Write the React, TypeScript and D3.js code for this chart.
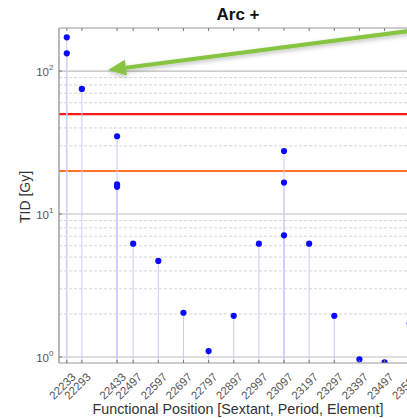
import React from "react";
import * as d3 from "d3";

const positions = [22233, 22233, 22293, 22433, 22433, 22433, 22497, 22597, 22697, 22797, 22897, 22997, 23097, 23097, 23097, 23197, 23297, 23397, 23497, 23597];
const values = [172, 133, 75, 35, 16.1, 15.5, 6.2, 4.7, 2.04, 1.1, 1.94, 6.2, 27.6, 16.6, 7.1, 6.2, 1.94, 0.963, 0.918, 1.72];
const tickLabels = ["22233", "22293", "22433", "22497", "22597", "22697", "22797", "22897", "22997", "23097", "23197", "23297", "23397", "23497", "23597"];
const limitValues = [50, 20];
const limitColors = ["#ff1a1a", "#ff7424"];
const majorTicks = [1, 10, 100];
const majorExps = ["0", "1", "2"];

const W = 407, H = 418;
const M = { left: 59, top: 28, right: 417, bottom: 363 };
const FONT = "'Liberation Sans', Arial, Helvetica, sans-serif";

export default function App() {
  const x = d3.scaleLinear().domain([22202, 23626]).range([M.left, M.right]);
  const y = d3.scaleLog().domain([0.908, 200]).range([M.bottom, M.top]);

  const minor: number[] = [];
  [1, 10, 100].forEach((d) => {
    for (let k = 2; k <= 9; k++) {
      const v = d * k;
      if (v < 200) minor.push(v);
    }
  });

  const tipX = 108, tipY = 70;
  const startX = 440, startY = 27;
  const ang = Math.atan2(startY - tipY, startX - tipX);
  const headLen = 18, headHalf = 8;
  const bx = tipX + Math.cos(ang) * headLen, by = tipY + Math.sin(ang) * headLen;
  const px = -Math.sin(ang), py = Math.cos(ang);

  return (
    <svg width={W} height={H} style={{ position: "absolute", left: 0, top: 0, background: "#fff" }} fontFamily={FONT}>
      <defs>
        <filter id="sh" x="-20%" y="-50%" width="140%" height="200%">
          <feDropShadow dx="0" dy="2" stdDeviation="2" floodColor="#000" floodOpacity="0.25" />
        </filter>
        <clipPath id="plot">
          <rect x={M.left} y={M.top} width={M.right - M.left} height={M.bottom - M.top} />
        </clipPath>
      </defs>

      {minor.map((v, i) => (
        <line key={"mi" + i} x1={M.left} x2={M.right} y1={y(v)} y2={y(v)} stroke="#d6d6d6" strokeWidth={1} strokeDasharray="3,2" />
      ))}
      {majorTicks.map((v, i) => (
        <line key={"ma" + i} x1={M.left} x2={M.right} y1={y(v)} y2={y(v)} stroke="#bdbdbd" strokeWidth={1.2} />
      ))}

      {limitValues.map((v, i) => (
        <line key={"lim" + i} x1={M.left} x2={M.right} y1={y(v)} y2={y(v)} stroke={limitColors[i]} strokeWidth={2.2} />
      ))}

      <g clipPath="url(#plot)">
        {positions.map((p, i) => (
          <line key={"st" + i} x1={x(p)} x2={x(p)} y1={y(values[i])} y2={M.bottom} stroke="#c9c9ff" strokeWidth={1} />
        ))}
        {positions.map((p, i) => (
          <circle key={"pt" + i} cx={x(p)} cy={y(values[i])} r={3.1} fill="#0a0aff" />
        ))}
      </g>

      <line x1={M.left} x2={M.right} y1={M.top} y2={M.top} stroke="#9a9a9a" strokeWidth={1.2} />
      <line x1={M.left} x2={M.right} y1={M.bottom} y2={M.bottom} stroke="#9a9a9a" strokeWidth={1.2} />
      <line x1={M.left} x2={M.left} y1={M.top} y2={M.bottom} stroke="#9a9a9a" strokeWidth={1.4} />

      {tickLabels.map((t, i) => {
        const xv = x(+t);
        return (
          <g key={"xt" + i}>
            <line x1={xv} x2={xv} y1={M.top} y2={M.top + 3} stroke="#777" />
            <line x1={xv} x2={xv} y1={M.bottom} y2={M.bottom - 3} stroke="#777" />
            <text transform={`translate(${xv + 4},${M.bottom + 9}) rotate(-45)`} textAnchor="end" fontSize={11.5} fill="#555" dy="0.7em">
              {t}
            </text>
          </g>
        );
      })}

      {majorTicks.map((v, i) => (
        <g key={"yt" + i}>
          <line x1={M.left} x2={M.left + 3} y1={y(v)} y2={y(v)} stroke="#777" />
          <text x={M.left - 10} y={y(v) + 5} textAnchor="end" fontSize={11.5} fill="#555">10</text>
          <text x={M.left - 10} y={y(v) - 1} fontSize={8} fill="#555">{majorExps[i]}</text>
        </g>
      ))}

      <text x={238} y={20} textAnchor="middle" fontSize={17} fontWeight="bold" fill="#111">Arc +</text>

      <text transform={`translate(30,197) rotate(-90)`} textAnchor="middle" fontSize={14} fill="#333">TID [Gy]</text>

      <text x={238} y={414} textAnchor="middle" fontSize={14.3} fill="#333">Functional Position [Sextant, Period, Element]</text>

      <g filter="url(#sh)">
        <line x1={startX} y1={startY} x2={bx} y2={by} stroke="#86c443" strokeWidth={4} />
        <path d={`M${tipX},${tipY} L${bx + px * headHalf},${by + py * headHalf} L${bx - px * headHalf},${by - py * headHalf} Z`} fill="#86c443" />
      </g>
    </svg>
  );
}
